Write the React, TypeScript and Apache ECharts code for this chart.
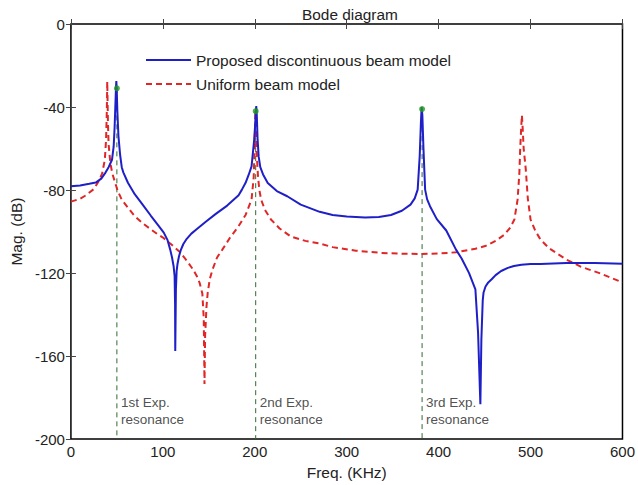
import React, { useEffect, useRef } from "react";
import * as echarts from "echarts";

// Frequency response magnitude, [freq (kHz), magnitude (dB)]
const proposedModel: [number, number][] = [
  [0, -78.2], [10, -77.8], [20, -77.0], [27, -76.4], [33, -74.5], [37.6, -71.6],
  [41, -69], [44.7, -65.4], [46.5, -59], [47.5, -50], [48.3, -40], [49, -31],
  [49.4, -27.5], [49.8, -31], [50.5, -42], [51.7, -54], [53.5, -63], [55.3, -69],
  [57, -71.5], [62, -76.5], [69.4, -82], [78, -87], [87, -92.4], [95, -97],
  [101, -100.5], [105, -104], [108, -108.7], [110, -112.5], [111.7, -116.7],
  [112.8, -121.5], [113.3, -135], [113.5, -157.5], [114.2, -128], [115, -119],
  [116, -115.5], [117.5, -112], [119.5, -109], [122.3, -106], [126, -103.5],
  [131, -101], [136.4, -99], [146, -95.5], [157.6, -91.5], [170, -87.5],
  [182.4, -82.5], [186, -79.8], [190, -76.5], [193.5, -72.5], [196.5, -68.6],
  [199.3, -56], [200.5, -48], [201.2, -42], [201.6, -39.5], [202.2, -44],
  [203, -55], [204.2, -63.8], [206, -69], [209, -72.5], [214.1, -76.6],
  [224, -80.5], [235.3, -83], [250, -87], [270.6, -90.5], [284.7, -92],
  [300, -92.8], [320, -93.2], [335, -93], [348.2, -92], [360, -90],
  [369.4, -87], [374, -84], [377.2, -79.8], [379.4, -63.8], [380.7, -47.7],
  [381.5, -40], [382.3, -44], [383.5, -60], [385.3, -79.8], [387.5, -84.5],
  [390.6, -87.8], [398, -94], [408.3, -99.5], [418.9, -108.7], [425, -113],
  [433, -119.9], [440, -127.9], [442.9, -148.7], [445.4, -183.2], [446.5, -152],
  [448, -133], [448.8, -129.5], [451, -126.5], [454, -124.5], [457.7, -123],
  [462, -121], [468, -119], [475.3, -117.5], [482, -116.6], [490, -116],
  [500, -115.6], [510.7, -115.6], [538.9, -115.2], [570, -115.2], [600, -115.5],
];

const uniformModel: [number, number][] = [
  [0, -85.6], [10, -84.2], [16.4, -82.5], [25, -79.5], [30.5, -75.5], [34, -72],
  [36.9, -65.4], [38.2, -56], [38.9, -45], [39.3, -35], [39.5, -27.7], [39.8, -35],
  [40.3, -48], [41, -58], [42.9, -67], [45, -72], [48.2, -76.6], [51, -80.5],
  [55.3, -84.6], [62, -88.5], [69.4, -92.6], [78, -96], [87, -99], [95, -101.5],
  [101, -103.2], [110, -106.5], [118.8, -110], [126, -114], [132.9, -118.3],
  [137, -121.5], [140, -124.7], [143, -130], [144.5, -142], [145.3, -173.5],
  [146, -150], [147.5, -136], [148.8, -129.5], [151, -123], [154, -118.3],
  [159, -112.5], [164.7, -108.7], [173, -103], [182.4, -97.4], [190, -92],
  [196.5, -84.6], [198.8, -74], [199.8, -60], [200.3, -50], [200.6, -41.5],
  [201, -48], [201.8, -60], [203.5, -73.4], [205, -80], [206.9, -84.6],
  [211, -89.5], [217.6, -94.2], [227, -98.5], [238.8, -102.3], [255, -104.5],
  [270.6, -105.8], [284.7, -107.5], [310, -109.2], [337.6, -110.3], [360, -110.7],
  [380, -110.8], [400, -110.6], [418.9, -110], [440, -108.3], [450.6, -107],
  [462, -104.5], [471.8, -101.4], [478, -98], [482.4, -94.2], [485.9, -84.6],
  [487.8, -72], [488.7, -60.6], [489.8, -50], [490.6, -44], [491.4, -50],
  [492.5, -60], [494.8, -70], [497, -84], [500, -94.2], [505, -99.5],
  [510.7, -103.8], [520, -108], [538.9, -113.5], [555, -117], [574.2, -119.9],
  [600, -124.5],
];

// Measured resonances: frequency (kHz) and peak magnitude (dB)
const expFreqs = [50, 201, 382];
const expPeaks = [-31, -42, -41];
const expLabels = ["1st Exp.\nresonance", "2nd Exp.\nresonance", "3rd Exp.\nresonance"];
const expLabelLevel = -186.5;

const xTicks = { min: 0, max: 600, interval: 100 };
const yTicks = { min: -200, max: 0, interval: 40 };

const FONT = "Liberation Sans, Arial, Helvetica, sans-serif";
const TEXT = "#222";

export default function App() {
  const ref = useRef<HTMLDivElement>(null);

  useEffect(() => {
    if (!ref.current) return;
    const chart = echarts.init(ref.current, undefined, { renderer: "svg" });

    const tickStyle = { show: true, inside: true, length: 5, lineStyle: { color: "#444", width: 1 } };

    // dashed markers from each measured peak down to the frequency axis
    const guideSeries = expFreqs.map((f, i) => ({
      type: "line",
      name: "exp" + i,
      data: [[f, expPeaks[i]], [f, yTicks.min]],
      symbol: "none",
      silent: true,
      lineStyle: { color: "#2f6a2f", width: 1, type: [5, 4] },
      z: 1,
    }));

    chart.setOption({
      animation: false,
      backgroundColor: "#fff",
      textStyle: { fontFamily: FONT },
      title: {
        text: "Bode diagram",
        left: 297,
        top: 2,
        textStyle: { fontSize: 15.4, fontWeight: "normal", color: TEXT, fontFamily: FONT },
      },
      legend: {
        orient: "vertical",
        left: 140,
        top: 47,
        itemWidth: 45,
        itemHeight: 14,
        itemGap: 8,
        itemStyle: { opacity: 0, borderWidth: 0 },
        data: ["Proposed discontinuous beam model", "Uniform beam model"],
        textStyle: { fontSize: 15.5, color: TEXT, fontFamily: FONT },
      },
      grid: {
        left: 64,
        right: 7,
        top: 24,
        bottom: 45,
        show: true,
        borderColor: "#000",
        borderWidth: 1.5,
      },
      xAxis: [
        {
          type: "value",
          ...xTicks,
          name: "Freq. (KHz)",
          nameLocation: "middle",
          nameGap: 18,
          nameTextStyle: { fontSize: 15.5, color: TEXT, fontFamily: FONT },
          axisLine: { show: false },
          axisTick: tickStyle,
          splitLine: { show: false },
          axisLabel: { fontSize: 15, color: TEXT, margin: 5, fontFamily: FONT },
        },
        {
          type: "value",
          ...xTicks,
          position: "top",
          axisLine: { show: false },
          axisTick: tickStyle,
          axisLabel: { show: false },
          splitLine: { show: false },
        },
      ],
      yAxis: [
        {
          type: "value",
          ...yTicks,
          name: "Mag. (dB)",
          nameLocation: "middle",
          nameGap: 31,
          nameRotate: 90,
          nameTextStyle: { fontSize: 15.5, color: TEXT, fontFamily: FONT },
          axisLine: { show: false },
          axisTick: tickStyle,
          splitLine: { show: false },
          axisLabel: { fontSize: 15, color: TEXT, margin: 6, fontFamily: FONT },
        },
        {
          type: "value",
          ...yTicks,
          position: "right",
          axisLine: { show: false },
          axisTick: tickStyle,
          axisLabel: { show: false },
          splitLine: { show: false },
        },
      ],
      series: [
        ...guideSeries,
        {
          type: "line",
          name: "Uniform beam model",
          data: uniformModel,
          symbol: "none",
          lineStyle: { color: "#e02626", width: 2, type: [6, 4] },
          itemStyle: { color: "#e02626" },
          z: 2,
        },
        {
          type: "line",
          name: "Proposed discontinuous beam model",
          data: proposedModel,
          symbol: "none",
          lineStyle: { color: "#1f1fc8", width: 2 },
          itemStyle: { color: "#1f1fc8" },
          z: 3,
        },
        {
          type: "scatter",
          name: "peaks",
          data: expFreqs.map((f, i) => [f, expPeaks[i]]),
          symbolSize: 6,
          itemStyle: { color: "#1e9a1e" },
          z: 4,
        },
        {
          type: "scatter",
          name: "labels",
          data: expFreqs.map((f, i) => ({ value: [f, expLabelLevel], label: { formatter: expLabels[i] } })),
          symbolSize: 0,
          silent: true,
          label: {
            show: true,
            position: "right",
            distance: 4,
            fontSize: 13.5,
            lineHeight: 17,
            color: TEXT,
            fontFamily: FONT,
          },
        },
      ],
    });

    return () => chart.dispose();
  }, []);

  return (
    <div
      ref={ref}
      style={{ position: "fixed", left: 0, top: 0, width: 638, height: 485 }}
    />
  );
}
